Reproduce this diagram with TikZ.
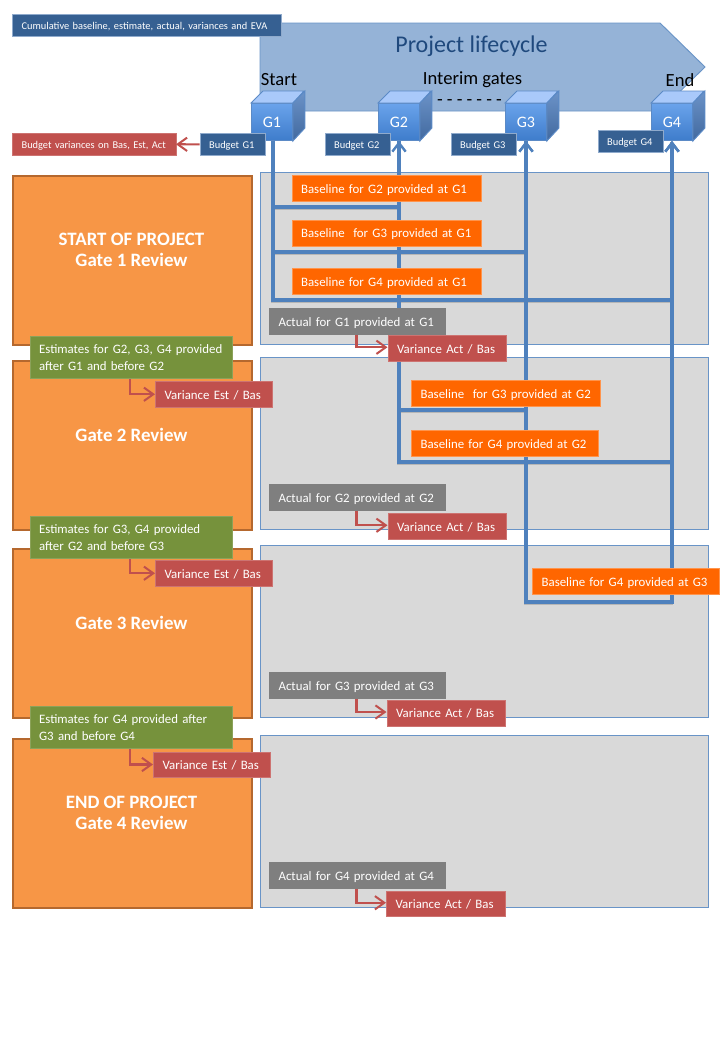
\documentclass[tikz,border=0pt]{standalone}
\usepackage{fontspec}
\setmainfont{Carlito}
\usetikzlibrary{arrows.meta,calc}
\definecolor{busblue}{HTML}{4F81BD}
\definecolor{lifefill}{HTML}{95B3D7}
\definecolor{navyfill}{HTML}{366092}
\definecolor{navyedge}{HTML}{8FAACC}
\definecolor{orfill}{HTML}{F79646}
\definecolor{oredge}{HTML}{B5682E}
\definecolor{basefill}{HTML}{FF6600}
\definecolor{actfill}{HTML}{7F7F7F}
\definecolor{varfill}{HTML}{C0504D}
\definecolor{estfill}{HTML}{76923C}
\definecolor{panelfill}{HTML}{D9D9D9}
\definecolor{titleblue}{HTML}{1F497D}
\definecolor{cubeedge}{HTML}{5B8AC6}
\definecolor{cubesidea}{HTML}{6C93C8}
\definecolor{cubesideb}{HTML}{41699F}
\definecolor{cubetopc}{HTML}{A9C9FA}
\definecolor{cubea}{HTML}{6AA3EB}
\definecolor{cubeb}{HTML}{3E7CCB}
\newcommand{\fpx}[1]{\pgfmathsetmacro{\fszv}{#1*0.75}\pgfmathsetmacro{\fszl}{#1*0.75*1.3}\fontsize{\fszv pt}{\fszl pt}\selectfont}
\newcommand{\lowline}[1]{\raisebox{-1.2pt}[0.7em][0.2em]{\mbox{#1}}}
\newcommand{\tb}[7]{%
  \pgfmathsetmacro{\wpx}{(#5-#3)*0.75}%
  \pgfmathsetmacro{\hpx}{(#6-#4)*0.75}%
  \pgfmathsetmacro{\twd}{\wpx-2*7}%
  \node[#1,anchor=north west,inner xsep=7pt,inner ysep=0pt,text width=\twd pt,minimum height=\hpx pt] (#2) at (#3,#4) {\lowline{#7}};}
\newcommand{\tbb}[8]{%
  \pgfmathsetmacro{\wpx}{(#5-#3)*0.75}%
  \pgfmathsetmacro{\hpx}{(#6-#4)*0.75}%
  \pgfmathsetmacro{\twd}{\wpx-2*7}%
  \node[#1,anchor=north west,inner xsep=7pt,inner ysep=0pt,text width=\twd pt,minimum height=\hpx pt] (#2) at (#3,#4) {\mbox{#7}\\\mbox{#8}};}
\newcommand{\cube}[3]{%
  \node[cubefront,anchor=north west] (#1) at (#2,103) {\raisebox{-1.5pt}{#3}};
  \fill[cubetop,draw=cubeedge,line width=0.7pt] (#1.north west) -- ++(12,-12) -- ++(41,0) -- (#1.north east) -- cycle;
  \shade[top color=cubesidea,bottom color=cubesideb,draw=cubeedge,line width=0.7pt] (#1.north east) -- ++(12,-12) -- ++(0,37) -- (#1.south east) -- cycle;}
\newcommand{\buspaths}[1]{%
  \draw[#1] (g1o) -- (j12) -| (g2o);
  \draw[#1] (g1o) -- (j13) -| (g3o);
  \draw[#1] (g1o) -- (j14) -| (g4o);
  \draw[#1] (g2o) -- (j23) -| (g3o);
  \draw[#1] (g2o) -- (j24) -| (g4o);
  \draw[#1] (g3o) -- (j34) -| (g4o);}
\tikzset{
  x=0.75pt,y=-0.75pt,
  navybox/.style={fill=navyfill,draw=navyedge,line width=0.5pt,text=white,font=\fpx{10.4},align=left},
  basebox/.style={fill=basefill,draw=basefill!70!white,line width=0.4pt,text=white,font=\fpx{12.85},align=left},
  actbox/.style={basebox,fill=actfill,draw=actfill},
  varbox/.style={basebox,fill=varfill,draw=varfill!80!white},
  bvarbox/.style={varbox,font=\fpx{10.4}},
  estbox/.style={basebox,fill=estfill,draw=estfill!85!white},
  reviewbox/.style={fill=orfill,draw=oredge,line width=1.6pt,anchor=north west,minimum width=239*0.75pt,minimum height=169*0.75pt,inner sep=0pt},
  reviewtext/.style={text=white,font=\fpx{18.9}\bfseries,align=center,inner sep=0pt},
  panel/.style={fill=panelfill,draw=busblue!85!white,line width=0.6pt,anchor=north west,minimum width=448*0.75pt,minimum height=172*0.75pt,inner sep=0pt},
  busshade/.style={draw=black,opacity=0.16,line width=2.8pt,transform canvas={xshift=-0.3pt,yshift=-1.1pt}},
  busin/.style={draw=busblue,line width=2.3pt,line join=miter,-{Straight Barb[length=6.5pt,width=10pt,line width=1.8pt]}},
  varflow/.style={draw=varfill,line width=1.6pt,-{Straight Barb[length=7pt,width=10pt,line width=1.5pt]}},
  cubefront/.style={top color=cubea,bottom color=cubeb,draw=cubeedge,line width=0.7pt,minimum width=41*0.75pt,minimum height=37*0.75pt,inner sep=0pt,text=white,font=\fpx{16}},
  cubetop/.style={fill=cubetopc},
  headtext/.style={text=black,font=\fpx{18.6},inner sep=0pt},
}
\begin{document}
\begin{tikzpicture}
\useasboundingbox (0,0) rectangle (720,1040);
\fill[white] (0,0) rectangle (720,1040);
% review columns
\node[reviewbox] (r1) at (12,175) {};
\node[reviewbox] (r2) at (12,360) {};
\node[reviewbox] (r3) at (12,548) {};
\node[reviewbox] (r4) at (12,738) {};
\node[reviewtext] (rt1) at (131.5,250) {START OF PROJECT\\[-2.7pt]Gate 1 Review};
\node[reviewtext] (rt2) at (131.5,435) {Gate 2 Review};
\node[reviewtext] (rt3) at (131.5,623) {Gate 3 Review};
\node[reviewtext] (rt4) at (131.5,813) {END OF PROJECT\\[-2.7pt]Gate 4 Review};
% panels
\node[panel] (p1) at (260,172) {};
\node[panel] (p2) at (260,357) {};
\node[panel] (p3) at (260,545) {};
\node[panel] (p4) at (260,735) {};
% lifecycle banner
\draw[fill=lifefill,draw=busblue!85!white,line width=0.7pt] (260,23) -- (660,23) -- (705,67) -- (660,111) -- (260,111) -- cycle;
\node[text=titleblue,font=\fpx{24},inner sep=0pt] (life) at (471.5,46) {Project lifecycle};
\node[headtext] (hstart) at (279,80) {Start};
\node[headtext] (hint) at (472.5,80) {Interim gates};
\node[headtext] (hend) at (680,80) {End};
\node[headtext] (hdash) at (469.5,103) {-\kern3.1pt-\kern3.1pt-\kern3.1pt-\kern3.1pt-\kern3.1pt-\kern3.1pt-};
% gates
\cube{g1}{251}{G1}
\cube{g2}{378}{G2}
\cube{g3}{505}{G3}
\cube{g4}{651}{G4}
% baseline buses
\coordinate (g1o) at (273,140.5);
\coordinate (g2o) at (399,141);
\coordinate (g3o) at (526,141);
\coordinate (g4o) at (672,141);
\coordinate (j12) at (273,207);
\coordinate (j13) at (273,252);
\coordinate (j14) at (273,300);
\coordinate (j23) at (399,410);
\coordinate (j24) at (399,462);
\coordinate (j34) at (526,602);
\buspaths{busshade}
\buspaths{busin}
% top labels
\tb{navybox}{cum}{12}{13.5}{281}{36}{Cumulative baseline, estimate, actual, variances and EVA}
\tb{bvarbox}{bvar}{12}{133}{175.5}{155}{Budget variances on Bas, Est, Act}
\tb{navybox}{b1}{199.5}{133}{265}{155}{Budget G1}
\tb{navybox}{b2}{324.5}{133}{390}{155}{Budget G2}
\tb{navybox}{b3}{450.5}{133}{516}{155}{Budget G3}
\tb{navybox}{b4}{597.5}{130}{663}{152}{Budget G4}
\draw[varflow] (b1) -- (bvar);
% baseline boxes
\tb{basebox}{b12}{291.5}{175}{481}{201}{Baseline for G2 provided at G1}
\tb{basebox}{b13}{291.5}{219.5}{481}{245.5}{Baseline\ \ for G3 provided at G1}
\tb{basebox}{b14}{291.5}{268}{481}{294}{Baseline for G4 provided at G1}
\tb{basebox}{b23}{411}{380}{600}{406}{Baseline\ \ for G3 provided at G2}
\tb{basebox}{b24}{411}{430}{597.5}{456}{Baseline for G4 provided at G2}
\tb{basebox}{b34}{532}{568}{719}{594}{Baseline for G4 provided at G3}
% actuals and variances
\tb{actbox}{a1}{269}{308}{445}{334}{Actual for G1 provided at G1}
\tb{actbox}{a2}{269}{484}{445}{510}{Actual for G2 provided at G2}
\tb{actbox}{a3}{269}{672}{445}{698}{Actual for G3 provided at G3}
\tb{actbox}{a4}{269}{862}{445}{888}{Actual for G4 provided at G4}
\tb{varbox}{va1}{387.5}{335}{506}{361}{Variance Act / Bas}
\tb{varbox}{va2}{387.5}{513}{506}{539}{Variance Act / Bas}
\tb{varbox}{va3}{386.5}{700}{504.5}{725.5}{Variance Act / Bas}
\tb{varbox}{va4}{386}{891}{504.5}{916}{Variance Act / Bas}
\draw[varflow] ($(a1.south west)+(87.5,0)$) |- ($(va1.west)+(0,-1)$);
\draw[varflow] ($(a2.south west)+(87.5,0)$) |- ($(va2.west)+(0,-1)$);
\draw[varflow] ($(a3.south west)+(87.5,0)$) |- ($(va3.west)+(0,-1)$);
\draw[varflow] ($(a4.south west)+(87.5,0)$) |- ($(va4.west)+(0,-1)$);
% estimates and variances
\tbb{estbox}{e1}{29.5}{336}{232}{378}{Estimates for G2, G3, G4 provided}{after G1 and before G2}
\tbb{estbox}{e2}{29.5}{516}{232}{558}{Estimates for G3, G4 provided}{after G2 and before G3}
\tbb{estbox}{e3}{29.5}{706}{232}{748}{Estimates for G4 provided after}{G3 and before G4}
\tb{varbox}{ve1}{155}{381}{272}{407}{Variance Est / Bas}
\tb{varbox}{ve2}{155}{560}{272}{586}{Variance Est / Bas}
\tb{varbox}{ve3}{153}{751.5}{270}{777}{Variance Est / Bas}
\draw[varflow] ($(e1.south west)+(100.5,0)$) |- (ve1.west);
\draw[varflow] ($(e2.south west)+(100.5,0)$) |- (ve2.west);
\draw[varflow] ($(e3.south west)+(100.5,0)$) |- (ve3.west);
\end{tikzpicture}
\end{document}
